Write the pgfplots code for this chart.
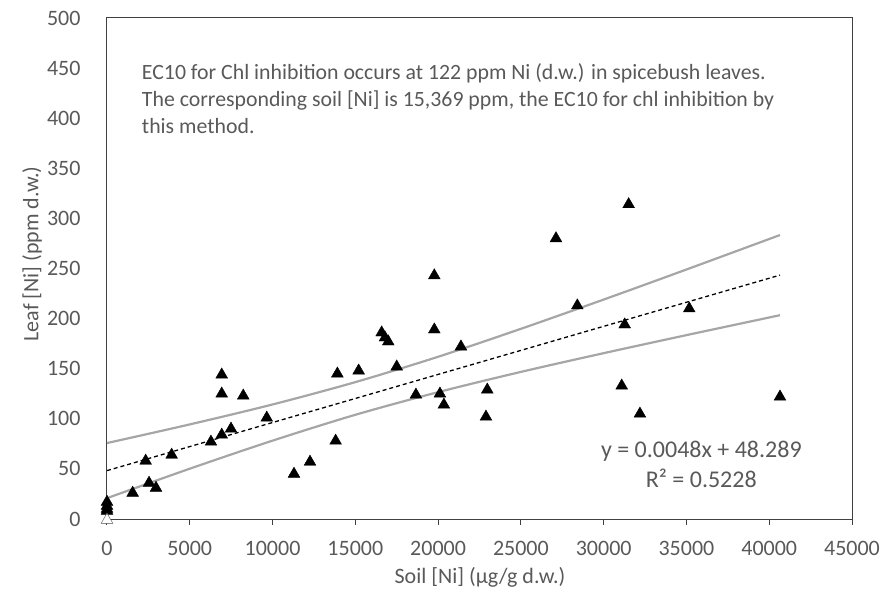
\documentclass[border=0pt]{standalone}
\usepackage{pgfplots}
\pgfplotsset{compat=1.18}
\usepackage{fontspec}
\setmainfont{Carlito}
\definecolor{txt}{HTML}{595959}
\definecolor{band}{HTML}{A6A6A6}
\definecolor{axl}{HTML}{404040}
\begin{document}
\begin{tikzpicture}
\useasboundingbox (-107bp,-73bp) rectangle (786bp,519bp);
\begin{axis}[
  at={(0,0)}, anchor=south west,
  scale only axis, width=745bp, height=501bp,
  xmin=0, xmax=45000, ymin=0, ymax=500,
  xtick={0,5000,...,45000}, ytick={0,50,...,500},
  scaled x ticks=false,
  /pgf/number format/assume math mode=true,
  xticklabel style={/pgf/number format/fixed,/pgf/number format/set thousands separator={}},
  tick label style={font=\fontsize{22bp}{26bp}\selectfont, text=txt},
  axis line style={axl, line width=1bp},
  x tick style={axl, line width=1bp},
  tick align=outside, major tick length=6bp,
  y tick style={draw=none},
  xtick pos=bottom, ytick pos=left,
  xticklabel shift=13bp, yticklabel shift=17bp,
  xlabel={Soil [Ni] (µg/g d.w.)},
  ylabel={Leaf [Ni] (ppm d.w.)},
  label style={font=\fontsize{22bp}{26bp}\selectfont, text=txt},
  xlabel style={at={(axis description cs:0.5007,-0.1158)}, anchor=center},
  ylabel style={at={(axis description cs:-0.1007,0.529)}, anchor=center, rotate=0},
  clip=false,
]
% upper and lower confidence bands
\addplot[band, line width=2.2bp, smooth] coordinates {
 (0,75.8) (5000,94.4) (10000,114.3) (15000,136.6) (20000,161.9) (25000,189.8) (30000,219.0) (35000,249.0) (40650,283.4)};
\addplot[band, line width=2.2bp, smooth] coordinates {
 (0,20.8) (5000,50.2) (10000,78.2) (15000,104.0) (20000,126.6) (25000,146.8) (30000,165.5) (35000,183.5) (40650,203.4)};
% regression line
\addplot[black, line width=1.3bp, dash pattern=on 4bp off 3bp] coordinates {(0,48.289) (40650,243.4)};
% data points
\addplot[only marks, mark=triangle*, mark size=6.8bp, black] coordinates {
 (0,17) (0,13) (0,10) (0,8)
 (1550,26) (2335,58) (2540,36) (2960,31) (3905,64)
 (6280,77) (6930,84) (6930,125) (6930,144) (7490,90) (8230,123) (9650,101)
 (11295,45) (12262,57) (13810,78) (13915,145) (15200,148)
 (16590,186) (16790,181) (16990,177) (17500,152)
 (18660,124) (19770,243) (19770,189) (20110,125) (20350,114) (21380,172)
 (22890,102) (22970,129)
 (27120,280) (28410,213) (31090,133) (31270,194) (31510,314) (32190,105) (35170,210) (40650,122)
};
\addplot[only marks, mark=triangle*, mark size=6.8bp, mark options={fill=white, draw=black!70}] coordinates {(0,-1)};
\node[anchor=north west, inner sep=0pt, align=left, text=txt,
  font=\fontsize{21.8bp}{27bp}\selectfont] at (axis cs:2100,455)
  {EC10 for Chl inhibition occurs at 122 ppm Ni (d.w.) in spicebush leaves.\\
   The corresponding soil [Ni] is 15,369 ppm, the EC10 for chl inhibition by\\
   this method.};
\node[anchor=center, inner sep=0pt, align=center, text=txt,
  font=\fontsize{24bp}{30bp}\selectfont] at (axis cs:35900,54)
  {y = 0.0048x + 48.289\\R² = 0.5228};
\end{axis}
\end{tikzpicture}
\end{document}
